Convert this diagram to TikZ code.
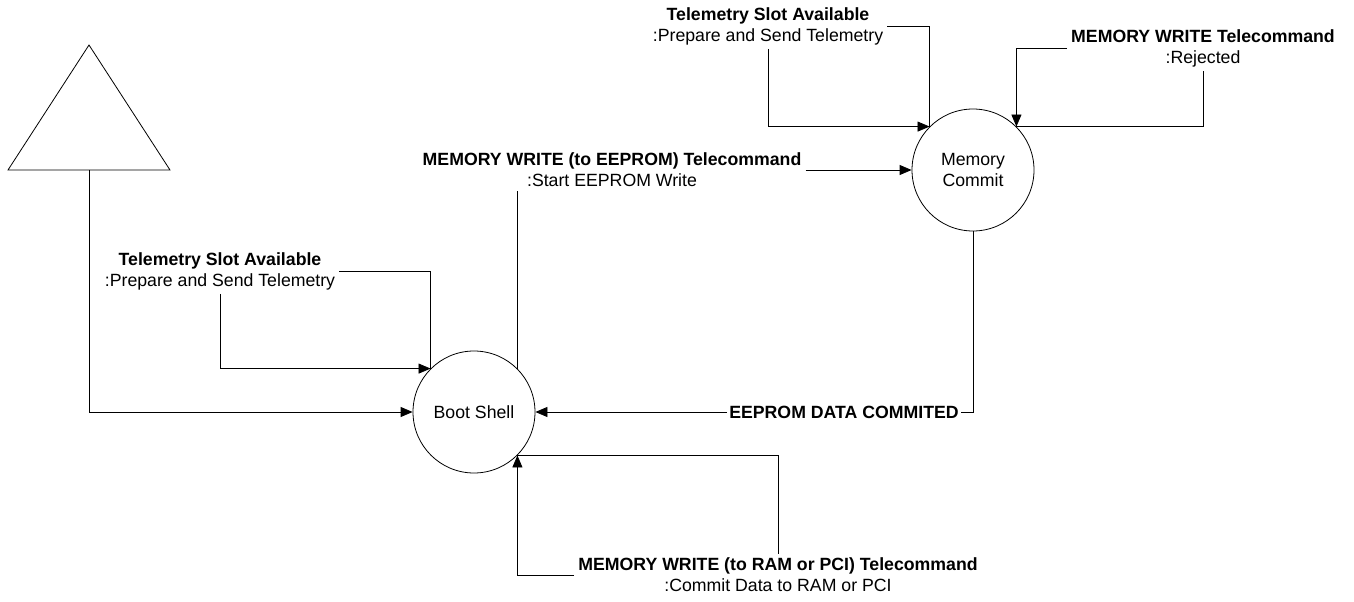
\documentclass[tikz,border=0pt]{standalone}
\usepackage{fontspec}
\setmainfont{Liberation Sans}
\usetikzlibrary{arrows.meta}

\begin{document}
\begin{tikzpicture}[x=1pt,y=-1pt,
  every node/.style={font=\fontsize{17.7}{21}\selectfont},
  state/.style={draw,circle,minimum size=122pt,inner sep=0pt,line width=0.8pt,align=center},
  lbl/.style={align=center,inner sep=4pt},
  arr/.style={-{Triangle[length=12pt,width=10pt]},line width=0.8pt},
  wire/.style={line width=0.8pt}]
  \useasboundingbox (0,0) rectangle (1354,602);

  % States
  \node[state] (boot) at (474,412) {Boot Shell};
  \node[state] (commit) at (973,170) {Memory\\Commit};

  % Entry point (triangle)
  \draw[wire] (8,170) -- (89,45) -- (170,170) -- cycle;
  \coordinate (entry) at (89,170);

  % Transition labels
  \node[lbl] (tmL) at (220,271) {\textbf{Telemetry Slot Available}\\:Prepare and Send Telemetry};
  \node[lbl] (eeL) at (612,170) {\textbf{MEMORY WRITE (to EEPROM) Telecommand}\\:Start EEPROM Write};
  \node[lbl] (tmR) at (768,26) {\textbf{Telemetry Slot Available}\\:Prepare and Send Telemetry};
  \node[lbl] (rejL) at (1203,48) {\textbf{MEMORY WRITE Telecommand}\\:Rejected};
  \node[lbl] (ramL) at (778,575) {\textbf{MEMORY WRITE (to RAM or PCI) Telecommand}\\:Commit Data to RAM or PCI};
  \node[lbl,inner sep=2pt] (cmtL) at (844,412) {\textbf{EEPROM DATA COMMITED}};

  % Entry
  \draw[arr] (entry) |- (boot.west);

  % Boot Shell self loop
  \draw[wire] (boot.135) |- (tmL.east);
  \draw[arr] (tmL.south) |- (boot.135);

  % Boot Shell -> Memory Commit
  \draw[wire] (boot.45) -- (boot.45 |- eeL.south);
  \draw[arr] (eeL.east) -- (commit.west);

  % Memory Commit self loops
  \draw[wire] (commit.135) |- (tmR.east);
  \draw[arr] (tmR.south) |- (commit.135);
  \draw[wire] (commit.45) -| (rejL.south);
  \draw[arr] (rejL.west) -| (commit.45);

  % Memory Commit -> Boot Shell
  \draw[wire] (commit.south) |- (cmtL.east);
  \draw[arr] (cmtL.west) -- (boot.east);

  % Boot Shell self loop (RAM or PCI)
  \draw[wire] (boot.-45) -| (ramL.north);
  \draw[arr] (ramL.west) -| (boot.-45);
\end{tikzpicture}
\end{document}
